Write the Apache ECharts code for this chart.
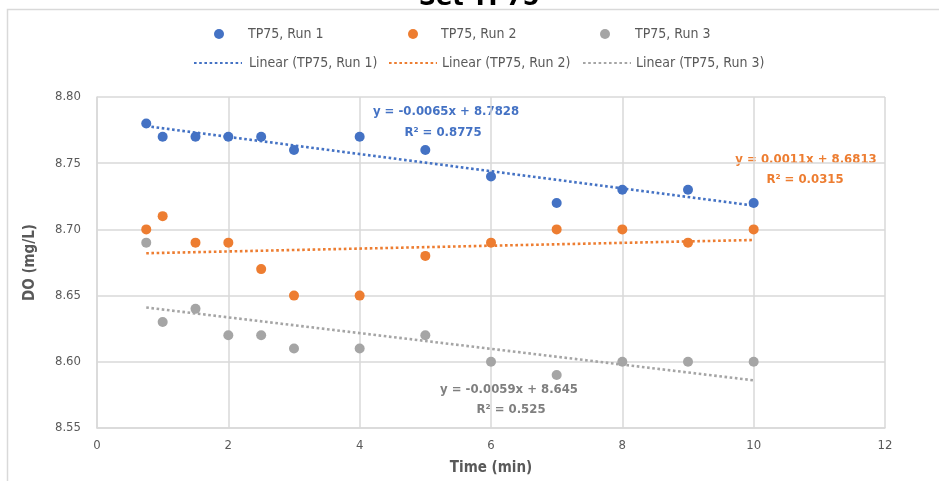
<!DOCTYPE html>
<html>
<head>
<meta charset="utf-8">
<script src="https://cdn.jsdelivr.net/npm/echarts@6/dist/echarts.min.js"></script>
<style>html,body{margin:0;padding:0;background:#fff;}#c{width:939px;height:481px;}</style>
</head>
<body>
<div id="c"></div>
<script>
// ---- data ----
const timesMin = [0.75, 1, 1.5, 2, 2.5, 3, 4, 5, 6, 7, 8, 9, 10];
const run1 = [8.78, 8.77, 8.77, 8.77, 8.77, 8.76, 8.77, 8.76, 8.74, 8.72, 8.73, 8.73, 8.72];
const run2 = [8.70, 8.71, 8.69, 8.69, 8.67, 8.65, 8.65, 8.68, 8.69, 8.70, 8.70, 8.69, 8.70];
const run3 = [8.69, 8.63, 8.64, 8.62, 8.62, 8.61, 8.61, 8.62, 8.60, 8.59, 8.60, 8.60, 8.60];
// trendline end points (x from first to last sample)
const trendX = [0.75, 10];
const trend1 = [8.778, 8.718];
const trend2 = [8.682, 8.692];
const trend3 = [8.641, 8.586];
const seriesNames = ['TP75, Run 1', 'TP75, Run 2', 'TP75, Run 3'];
const trendNames = ['Linear (TP75, Run 1)', 'Linear (TP75, Run 2)', 'Linear (TP75, Run 3)'];
const eqText = [
  ['y = -0.0065x + 8.7828', 'R\u00b2 = 0.8775'],
  ['y = 0.0011x + 8.6813', 'R\u00b2 = 0.0315'],
  ['y = -0.0059x + 8.645', 'R\u00b2 = 0.525']
];
const titleText = 'Set TP75';
const xTicks = {min: 0, max: 12, interval: 2};
const yTicks = {min: 8.55, max: 8.80, interval: 0.05};

// ---- styling ----
const F = "'DejaVu Sans Condensed','DejaVu Sans',sans-serif";
const colors = ['#4472C4', '#ED7D31', '#A5A5A5'];
const eqColors = ['#4472C4', '#ED7D31', '#7F7F7F'];
const gridColor = '#D9D9D9';
const textColor = '#595959';

const pts = v => timesMin.map((t, i) => [t, v[i]]);
const tr = v => trendX.map((t, i) => [t, v[i]]);

const runs = [run1, run2, run3];
const trends = [trend1, trend2, trend3];

const series = [];
runs.forEach((r, i) => series.push({
  name: seriesNames[i], type: 'scatter', data: pts(r), symbol: 'circle', symbolSize: 10,
  itemStyle: {color: colors[i], opacity: 1}, z: 2
}));
trends.forEach((r, i) => series.push({
  name: trendNames[i], type: 'line', data: tr(r), symbol: 'none', showSymbol: false,
  lineStyle: {color: colors[i], width: 2.6, type: [2.6, 2.6]}, itemStyle: {color: colors[i]}, z: 3
}));

function leg(name, left, top, w, h, pad, hideSymbol) {
  const o = {
    data: [name], left: left, top: top, itemWidth: w, itemHeight: h, padding: 0,
    selectedMode: false,
    textStyle: {fontFamily: F, fontSize: 14, color: textColor, padding: [0, 0, 0, pad]}
  };
  if (hideSymbol) o.itemStyle = {opacity: 0, borderWidth: 0};
  return o;
}
const legends = [
  leg(seriesNames[0], 214, 27, 10, 10, 19),
  leg(seriesNames[1], 408, 27, 10, 10, 18),
  leg(seriesNames[2], 600, 27, 10, 10, 20),
  leg(trendNames[0], 193, 56, 48, 10, 2, true),
  leg(trendNames[1], 388, 56, 48, 10, 0, true),
  leg(trendNames[2], 582, 56, 48, 10, 0, true)
];

const eqPos = [[446, 112, 443, 133], [806, 160, 805, 180], [509, 390, 511, 410]];
const graphics = [
  {type: 'polyline', shape: {points: [[7.5, 481], [7.5, 9.5], [939, 9.5]]},
   style: {stroke: gridColor, lineWidth: 1.5, fill: null}, silent: true},
  {type: 'text', x: 479, y: 11, style: {text: titleText, font: "bold 24px 'DejaVu Sans',sans-serif",
   fill: '#000', textAlign: 'center', textVerticalAlign: 'bottom'}}
];
eqText.forEach((e, i) => {
  const p = eqPos[i];
  graphics.push({type: 'text', x: p[0], y: p[1], style: {text: e[0], font: "bold 13px " + F, fill: eqColors[i], textAlign: 'center', textVerticalAlign: 'middle'}});
  graphics.push({type: 'text', x: p[2], y: p[3], style: {text: e[1], font: "bold 13px " + F, fill: eqColors[i], textAlign: 'center', textVerticalAlign: 'middle'}});
});

const chart = echarts.init(document.getElementById('c'), null, {renderer: 'canvas'});
chart.setOption({
  animation: false,
  backgroundColor: '#fff',
  legend: legends,
  grid: {left: 97, right: 54, top: 97, bottom: 50, containLabel: false},
  xAxis: {
    type: 'value', min: xTicks.min, max: xTicks.max, interval: xTicks.interval,
    name: 'Time (min)', nameLocation: 'middle', nameGap: 33,
    nameTextStyle: {fontFamily: F, fontSize: 15, fontWeight: 'bold', color: textColor},
    axisLine: {show: true, lineStyle: {color: gridColor, width: 1.5}},
    axisTick: {show: false},
    axisLabel: {fontFamily: F, fontSize: 13, color: textColor, margin: 11},
    splitLine: {show: true, lineStyle: {color: gridColor, width: 1.5}}
  },
  yAxis: {
    type: 'value', min: yTicks.min, max: yTicks.max, interval: yTicks.interval,
    name: 'DO (mg/L)', nameLocation: 'middle', nameGap: 59, nameRotate: 90,
    nameTextStyle: {fontFamily: F, fontSize: 15, fontWeight: 'bold', color: textColor},
    axisLine: {show: true, lineStyle: {color: gridColor, width: 1.5}},
    axisTick: {show: false},
    axisLabel: {fontFamily: F, fontSize: 13, color: textColor, margin: 16, formatter: v => v.toFixed(2)},
    splitLine: {show: true, lineStyle: {color: gridColor, width: 1.5}}
  },
  graphic: graphics,
  series: series
});
</script>
</body>
</html>
